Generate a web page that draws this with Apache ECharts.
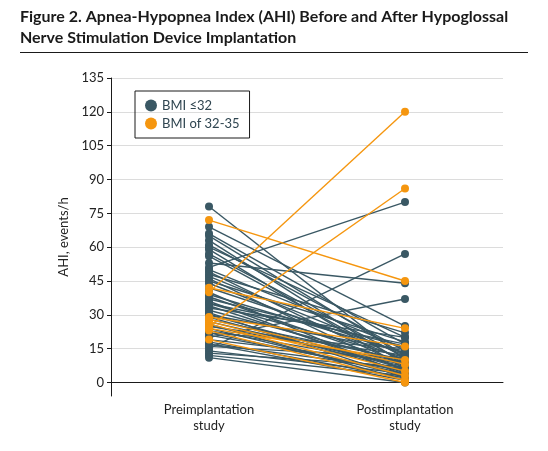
<!DOCTYPE html>
<html>
<head>
<meta charset="utf-8">
<script src="https://cdn.jsdelivr.net/npm/echarts@6/dist/echarts.min.js"></script>
<style>
  html, body { margin: 0; padding: 0; background: #fff; }
  #main { width: 548px; height: 451px; }
</style>
</head>
<body>
<div id="main"></div>
<script>
    var categories = ['Preimplantation\nstudy', 'Postimplantation\nstudy'];
    var yTicks = [0, 15, 30, 45, 60, 75, 90, 105, 120, 135];

    /* BMI <=32 : before / after */
    var preLow  = [78, 69, 66, 65, 63, 61, 60, 59, 57, 56, 53, 51, 50, 49, 48, 47, 46, 45, 44, 42,
                   40, 39, 38, 37, 36, 35, 34, 33, 32, 31, 30, 29, 28, 27, 26, 25, 24, 23, 22, 21,
                   20, 19, 18, 17, 16, 15, 14, 13, 12, 11, 35, 30, 25, 22, 17];
    var postLow = [10, 25, 17, 12, 8, 14, 20, 6, 11, 9, 44, 80, 15, 7, 22, 12, 5, 18, 10, 13,
                   3, 13, 8, 16, 4, 11, 6, 20, 9, 2, 14, 5, 10, 7, 1, 12, 3, 8, 15, 5,
                   37, 9, 2, 6, 11, 57, 4, 7, 3, 0, 17, 6, 9, 4, 1];

    /* BMI 32-35 : before / after */
    var preHigh  = [72, 42, 40, 29, 28, 27, 26, 25, 24, 23, 19];
    var postHigh = [45, 24, 120, 16, 8, 5, 3, 86, 10, 1, 0];

    var darkColor = '#3a5864';
    var orangeColor = '#f5960f';

    function pairSeries(name, pre, post, color) {
        var out = [];
        for (var i = 0; i < pre.length; i++) {
            out.push({
                name: name,
                type: 'line',
                data: [pre[i], post[i]],
                symbol: 'circle',
                symbolSize: 8,
                clip: false,
                color: color,
                lineStyle: {color: color, width: 1.4},
                itemStyle: {color: color},
                emphasis: {disabled: true},
                z: color === orangeColor ? 3 : 2
            });
        }
        return out;
    }

    var series = pairSeries('BMI ≤32', preLow, postLow, darkColor)
        .concat(pairSeries('BMI of 32-35', preHigh, postHigh, orangeColor));

    var myChart = echarts.init(document.getElementById('main'), null, {renderer: 'canvas'});
    var option = {
        animation: false,
        title: {
            text: 'Figure 2. Apnea-Hypopnea Index (AHI) Before and After Hypoglossal\nNerve Stimulation Device Implantation',
            left: 15,
            top: 0,
            padding: [6, 5, 5, 5],
            textStyle: {
                fontFamily: 'Lato',
                fontSize: 16,
                fontWeight: 'bold',
                color: '#1a1a1a',
                lineHeight: 21
            }
        },
        graphic: [{
            type: 'line',
            shape: {x1: 20, y1: 52.5, x2: 528, y2: 52.5},
            style: {stroke: '#1a1a1a', lineWidth: 1}
        }],
        legend: {
            left: 135,
            top: 91,
            orient: 'vertical',
            icon: 'circle',
            itemWidth: 12,
            itemHeight: 12,
            itemGap: 5,
            padding: [8, 10, 8, 10],
            borderColor: '#1a1a1a',
            borderWidth: 1,
            data: ['BMI ≤32', 'BMI of 32-35'],
            textStyle: {fontFamily: 'Lato', fontSize: 13, color: '#2f4550'}
        },
        grid: {left: 111, right: 45, top: 78, bottom: 55},
        xAxis: {
            type: 'category',
            data: categories,
            boundaryGap: true,
            axisLine: {lineStyle: {color: '#1a1a1a', width: 1}},
            axisTick: {show: false},
            axisLabel: {
                fontFamily: 'Lato',
                fontSize: 13,
                color: '#222',
                lineHeight: 16,
                margin: 6
            },
            splitLine: {show: false}
        },
        yAxis: {
            type: 'value',
            min: -6,
            max: 135,
            name: 'AHI, events/h',
            nameLocation: 'middle',
            nameGap: 31,
            nameTextStyle: {fontFamily: 'Lato', fontSize: 13, color: '#222'},
            axisLine: {show: true, lineStyle: {color: '#1a1a1a', width: 1}},
            axisTick: {show: true, length: 4, customValues: yTicks, lineStyle: {color: '#1a1a1a'}},
            axisLabel: {
                customValues: yTicks,
                fontFamily: 'Lato',
                fontSize: 13,
                color: '#222',
                margin: 7
            },
            splitLine: {show: true, lineStyle: {color: '#dcdcdc', width: 1}}
        },
        series: series
    };
    myChart.setOption(option);
</script>
</body>
</html>
